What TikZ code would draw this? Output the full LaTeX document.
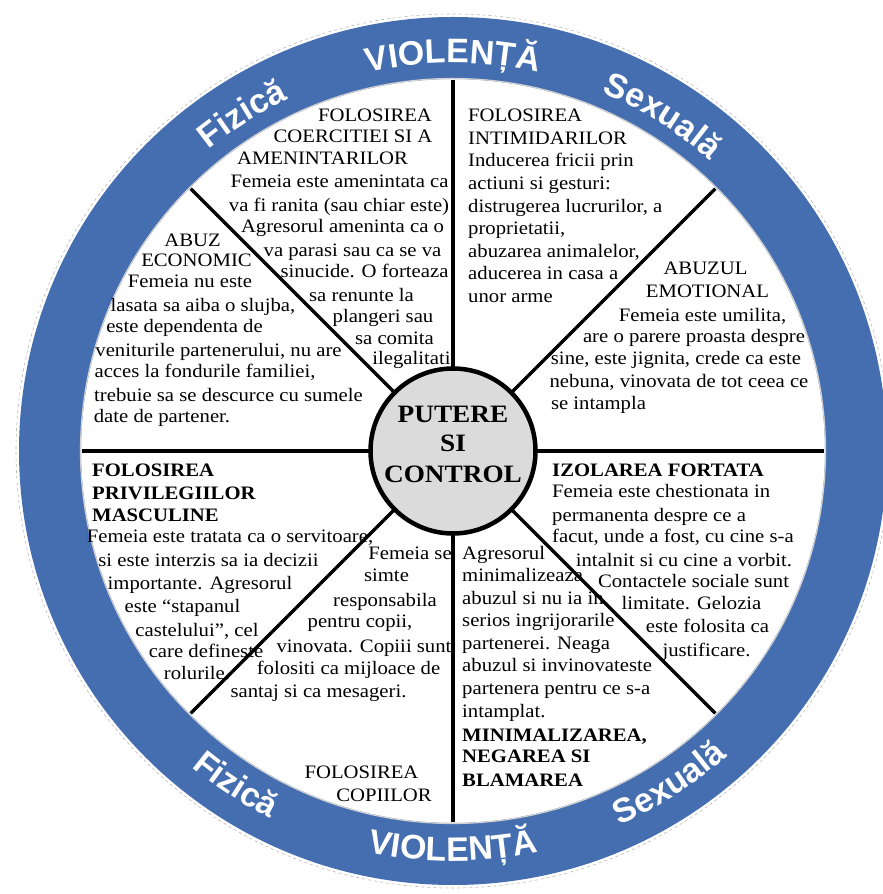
\documentclass[tikz,border=0pt]{standalone}
\usepackage{fontspec}
\setmainfont{Liberation Serif}[FakeStretch=1.09]
\newfontfamily\ringfam{Liberation Sans}
\usetikzlibrary{calc,decorations.text}
\definecolor{ringblue}{RGB}{68,110,176}
\newcounter{tlc}
\newcommand\bt{\fontsize{19pt}{22pt}\selectfont}
\newcommand\ct{\fontsize{25pt}{30pt}\selectfont\bfseries}
\newcommand\rf{\ringfam\bfseries\fontsize{34pt}{34pt}\selectfont}
\newcommand\Lc[3]{\stepcounter{tlc}\node[txt] (tl\arabic{tlc}) at (#1,894-#2) {#3};}
\newcommand\Lw[3]{\stepcounter{tlc}\node[txt,anchor=base west] (tl\arabic{tlc}) at (#1,894-#2) {#3};}
\newcommand\ringtext[4]{%
  \path[decorate,decoration={text along path,text={|\rf|#4},text align=center,text color=white}]
    ($(C)+(#1:#3)$) arc[start angle=#1,end angle=#2,radius=#3];
}
\tikzset{
  txt/.style={anchor=base,inner sep=0pt,font=\bt,text=black},
  spoke/.style={line width=3.5pt,draw=black},
}
\begin{document}
\begin{tikzpicture}[x=1pt,y=1pt]
\useasboundingbox[fill=white] (0,0) rectangle (883,894);
\coordinate (C) at (453,443);
% outer faint dashed edge
\draw[gray!55,line width=0.6pt,dash pattern=on 3pt off 3pt] (C) circle[radius=437];
% ring
\fill[ringblue,even odd rule] (C) circle[radius=434] (C) circle[radius=372];
\draw[gray!35,line width=1.2pt] (C) circle[radius=372.5];
% spokes
\foreach \a in {0,45,90,135}
  \draw[spoke] ($(C)+(\a:371)$) -- ($(C)+(\a+180:371)$);
% core
\node[circle,draw=black,line width=4.5pt,fill=gray!28,minimum size=165pt,inner sep=0pt] (core) at (C) {};
\Lc{453}{423}{\ct PUTERE}
\Lc{453}{452}{\ct SI}
\Lc{453}{483}{\ct CONTROL}
% ring texts
\ringtext{130}{50}{388}{VIOLENȚĂ}
\ringtext{152}{92}{388}{Fizică}
\ringtext{88}{28}{388}{Sexuală}
\ringtext{230}{310}{410}{VIOLENȚĂ}
\ringtext{207}{267}{410}{Fizică}
\ringtext{273}{333}{410}{Sexuală}
% Block A
\Lc{375}{122}{FOLOSIREA}
\Lc{353}{143}{COERCITIEI SI A}
\Lc{322.5}{165}{AMENINTARILOR}
\Lc{339.5}{188}{Femeia este amenintata ca}
\Lc{339}{212}{va fi ranita (sau chiar este)}
\Lc{342.5}{233}{Agresorul ameninta ca o}
\Lc{352.5}{257}{va parasi sau ca se va}
\Lc{364.5}{278}{sinucide. O forteaza}
\Lc{361.5}{302}{sa renunte la}
\Lc{383}{323}{plangeri sau}
\Lc{394.5}{345}{sa comita}
\Lc{411.5}{365}{ilegalitati}
% Block B
\Lc{192.5}{247}{ABUZ}
\Lc{196.5}{267}{ECONOMIC}
\Lc{190}{288}{Femeia nu este}
\Lc{203}{312}{lasata sa aiba o slujba,}
\Lc{184.5}{333}{este dependenta de}
\Lc{218.5}{357}{veniturile partenerului, nu are}
\Lc{205}{378}{acces la fondurile familiei,}
\Lc{228.5}{402}{trebuie sa se descurce cu sumele}
\Lc{162}{423}{date de partener.}
% Block C
\Lw{468}{122}{FOLOSIREA}
\Lw{468}{145}{INTIMIDARILOR}
\Lw{468}{167}{Inducerea fricii prin}
\Lw{468}{190}{actiuni si gesturi:}
\Lw{468}{213}{distrugerea lucrurilor, a}
\Lw{468}{235}{proprietatii,}
\Lw{468}{258}{abuzarea animalelor,}
\Lw{468}{280}{aducerea in casa a}
\Lw{468}{303}{unor arme}
% Block D
\Lc{705.5}{275}{ABUZUL}
\Lc{707.5}{298}{EMOTIONAL}
\Lc{702.5}{322}{Femeia este umilita,}
\Lc{694}{343}{are o parere proasta despre}
\Lc{676}{365}{sine, este jignita, crede ca este}
\Lc{679}{388}{nebuna, vinovata de tot ceea ce}
\Lc{598.5}{410}{se intampla}
% Block E
\Lw{92}{477}{\textbf{FOLOSIREA}}
\Lw{92}{500}{\textbf{PRIVILEGIILOR}}
\Lw{92}{522}{\textbf{MASCULINE}}
\Lc{230}{543}{Femeia este tratata ca o servitoare,}
\Lc{208.5}{567}{si este interzis sa ia decizii}
\Lc{200}{590}{importante. Agresorul}
\Lc{182.5}{613}{este “stapanul}
\Lc{197}{637}{castelului”, cel}
\Lc{206}{658}{care defineste}
\Lc{197}{680}{rolurile.}
% Block F
\Lc{410}{560}{Femeia se}
\Lc{386.5}{582}{simte}
\Lc{385}{607}{responsabila}
\Lc{360}{628}{pentru copii,}
\Lc{364}{653}{vinovata. Copiii sunt}
\Lc{348.5}{675}{folositi ca mijloace de}
\Lc{318.5}{698}{santaj si ca mesageri.}
\Lc{361.5}{779}{FOLOSIREA}
\Lc{384}{802}{COPIILOR}
% Block G
\Lw{462}{560}{Agresorul}
\Lw{462}{582}{minimalizeaza}
\Lw{462}{605}{abuzul si nu ia in}
\Lw{462}{627}{serios ingrijorarile}
\Lw{462}{650}{partenerei. Neaga}
\Lw{462}{672}{abuzul si invinovateste}
\Lw{462}{695}{partenera pentru ce s-a}
\Lw{462}{718}{intamplat.}
\Lw{462}{742}{\textbf{MINIMALIZAREA,}}
\Lw{462}{763}{\textbf{NEGAREA SI}}
\Lw{462}{787}{\textbf{BLAMAREA}}
% Block H
\Lw{552}{477}{\textbf{IZOLAREA FORTATA}}
\Lw{552}{498}{Femeia este chestionata in}
\Lw{552}{522}{permanenta despre ce a}
\Lw{552}{543}{facut, unde a fost, cu cine s-a}
\Lc{684}{567}{intalnit si cu cine a vorbit.}
\Lc{693.5}{588}{Contactele sociale sunt}
\Lc{691.5}{610}{limitate. Gelozia}
\Lc{707.5}{633}{este folosita ca}
\Lc{706.5}{657}{justificare.}
\end{tikzpicture}
\end{document}
